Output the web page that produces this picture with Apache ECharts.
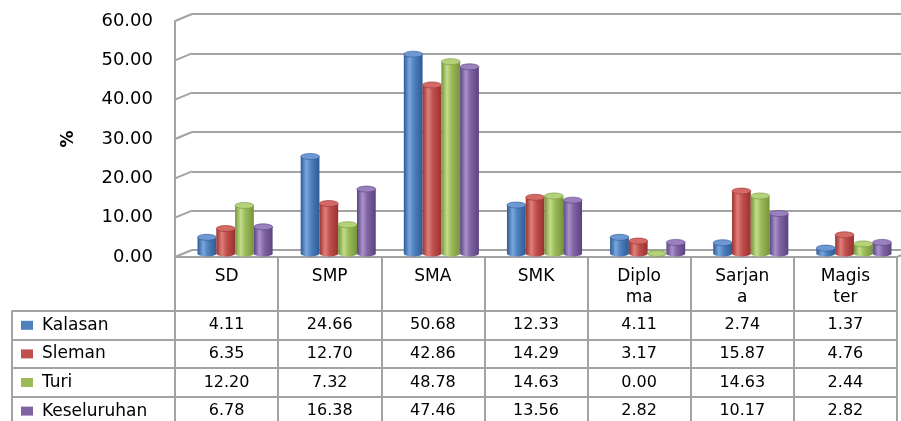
<!DOCTYPE html>
<html>
<head>
<meta charset="utf-8">
<script src="https://cdn.jsdelivr.net/npm/echarts@6/dist/echarts.min.js"></script>
<style>
  html, body { margin: 0; padding: 0; background: #fff; }
  #chart { width: 901px; height: 421px; }
</style>
</head>
<body>
<div id="chart"></div>
<script>
// Education level shares (%) per area
const categories = ['SD', 'SMP', 'SMA', 'SMK', 'Diploma', 'Sarjana', 'Magister'];
const headerLabels = ['SD', 'SMP', 'SMA', 'SMK', 'Diplo\nma', 'Sarjan\na', 'Magis\nter'];
const seriesNames = ['Kalasan', 'Sleman', 'Turi', 'Keseluruhan'];
const kalasan = [4.11, 24.66, 50.68, 12.33, 4.11, 2.74, 1.37];
const sleman = [6.35, 12.70, 42.86, 14.29, 3.17, 15.87, 4.76];
const turi = [12.20, 7.32, 48.78, 14.63, 0.00, 14.63, 2.44];
const keseluruhan = [6.78, 16.38, 47.46, 13.56, 2.82, 10.17, 2.82];
const yTicks = [0, 10, 20, 30, 40, 50, 60];

const allValues = [kalasan, sleman, turi, keseluruhan];

// cylinder shading per series: [dark edge, highlight, base, cap]
const palettes = [
  ['#2d5b97', '#7aa6df', '#4F81BD', '#6d98d2'],
  ['#983230', '#e07f7b', '#C0504D', '#d46a66'],
  ['#76953a', '#c2dd8c', '#9BBB59', '#b3d279'],
  ['#5b4281', '#aa92cb', '#8064A2', '#9a80bd']
];

const DEPTH_X = 17, DEPTH_Y = 7;
const lineGray = '#a3a3a3';
const textColor = '#000000';
const fontFamily = 'DejaVu Sans';

function cylinderRenderer(k) {
  const pal = palettes[k];
  return function (params, api) {
    const cat = api.value(0);
    const val = api.value(1);
    const base = api.coord([cat, 0]);
    const top = api.coord([cat, val]);
    const band = api.size([1, 0])[0];
    const w = band * 0.182;
    const x = base[0] - 2 * w + k * w;
    const rx = w / 2, ry = 3;
    const body = {
      type: 'linear', x: 0, y: 0, x2: 1, y2: 0,
      colorStops: [
        { offset: 0, color: pal[0] },
        { offset: 0.3, color: pal[1] },
        { offset: 0.55, color: pal[2] },
        { offset: 1, color: pal[0] }
      ]
    };
    return {
      type: 'group',
      children: [
        { type: 'ellipse', shape: { cx: x + rx, cy: base[1], rx: rx, ry: ry },
          style: { fill: body } },
        { type: 'rect', shape: { x: x, y: top[1], width: w, height: base[1] - top[1] },
          style: { fill: body } },
        { type: 'ellipse', shape: { cx: x + rx, cy: top[1], rx: rx, ry: ry },
          style: { fill: pal[3], stroke: pal[0], lineWidth: 0.6 } }
      ]
    };
  };
}

const chart = echarts.init(document.getElementById('chart'), null, { renderer: 'canvas' });

const cellData = [];
allValues.forEach((arr, r) => arr.forEach((v, c) => cellData.push([c, r, v])));

const richRow = { t: { fontFamily: fontFamily, fontSize: 17, color: textColor, padding: [0, 0, 0, 9] } };
palettes.forEach((p, i) => { richRow['m' + i] = { backgroundColor: p[2], width: 12, height: 9 }; });

const option = {
  backgroundColor: '#ffffff',
  animation: false,
  textStyle: { fontFamily: fontFamily },
  grid: [
    // back wall
    { left: 192, right: -30, top: 14, height: 236, outerBoundsMode: 'none' },
    // front plane (axis labels + header row)
    { left: 175, right: 4, top: 21, height: 236, outerBoundsMode: 'none' },
    // bars at mid depth
    { left: 183.5, right: -4.5, top: 17.5, height: 236, outerBoundsMode: 'none' },
    // table rows (full width)
    { left: 12, right: 4, top: 311, height: 114.4, outerBoundsMode: 'none' },
    // table value cells
    { left: 175, right: 4, top: 311, height: 114.4, outerBoundsMode: 'none' }
  ],
  xAxis: [
    { gridIndex: 0, type: 'category', data: categories, show: false },
    { gridIndex: 1, type: 'category', data: headerLabels,
      axisLine: { show: true, lineStyle: { color: lineGray, width: 2 } },
      axisTick: { show: true, interval: 0, length: 170, lineStyle: { color: lineGray, width: 2 } },
      axisLabel: { interval: 0, fontSize: 17, lineHeight: 21, margin: 9, color: textColor, fontFamily: fontFamily },
      splitLine: { show: false } },
    { gridIndex: 2, type: 'category', data: categories, show: false },
    { gridIndex: 3, type: 'value', min: 0, max: 1, show: false },
    { gridIndex: 4, type: 'category', data: categories, show: false }
  ],
  yAxis: [
    { gridIndex: 0, type: 'value', min: 0, max: 60, interval: 10,
      axisLine: { show: false }, axisTick: { show: false }, axisLabel: { show: false },
      splitLine: { show: true, lineStyle: { color: lineGray, width: 2 } } },
    { gridIndex: 1, type: 'value', min: 0, max: 60, interval: 10,
      name: '%', nameLocation: 'middle', nameGap: 98, nameRotate: 90,
      nameTextStyle: { fontSize: 17, fontWeight: 'bold', color: textColor, fontFamily: fontFamily },
      axisLine: { show: true, lineStyle: { color: lineGray, width: 2 } },
      axisTick: { show: false },
      splitLine: { show: false },
      axisLabel: { formatter: v => v.toFixed(2), fontSize: 18, margin: 22, color: textColor, fontFamily: fontFamily } },
    { gridIndex: 2, type: 'value', min: 0, max: 60, interval: 10, show: false, splitLine: { show: false } },
    { gridIndex: 3, type: 'category', data: seriesNames, inverse: true,
      axisLine: { show: true, lineStyle: { color: lineGray, width: 2 } },
      axisTick: { show: false },
      splitLine: { show: true, interval: 0, lineStyle: { color: lineGray, width: 2 } },
      axisLabel: { inside: true, margin: 9, interval: 0,
        formatter: (v, i) => '{m' + i + '|}{t|' + v + '}', rich: richRow } },
    { gridIndex: 4, type: 'category', data: seriesNames, inverse: true, show: false }
  ],
  series: [
    // side-wall depth edges at each gridline, plus the floor's right corner
    { type: 'custom', xAxisIndex: 1, yAxisIndex: 1, silent: true, clip: false, z: 1,
      data: yTicks.map(v => [0, v]),
      renderItem: function (params, api) {
        const cs = params.coordSys;
        const v = api.value(1);
        const y = api.coord([0, v])[1];
        const children = [
          { type: 'line', shape: { x1: cs.x, y1: y, x2: cs.x + DEPTH_X, y2: y - DEPTH_Y },
            style: { stroke: lineGray, lineWidth: 2 } }
        ];
        if (v === 0) {
          children.push({ type: 'line',
            shape: { x1: cs.x + cs.width, y1: y, x2: cs.x + cs.width + DEPTH_X, y2: y - DEPTH_Y },
            style: { stroke: lineGray, lineWidth: 2 } });
        }
        return { type: 'group', children: children };
      } }
  ].concat(allValues.map((arr, k) => ({
    type: 'custom', name: seriesNames[k], xAxisIndex: 2, yAxisIndex: 2, clip: false, z: 3,
    itemStyle: { color: palettes[k][2] },
    data: arr.map((v, i) => [i, v]),
    renderItem: cylinderRenderer(k)
  }))).concat([
    { type: 'scatter', xAxisIndex: 4, yAxisIndex: 4, silent: true,
      symbolSize: 0.1, itemStyle: { color: 'rgba(0,0,0,0)' },
      data: cellData,
      label: { show: true, position: 'inside', fontSize: 16, color: textColor, opacity: 1,
        textBorderWidth: 0, fontFamily: fontFamily,
        formatter: p => p.value[2].toFixed(2) } }
  ])
};

chart.setOption(option);
</script>
</body>
</html>
